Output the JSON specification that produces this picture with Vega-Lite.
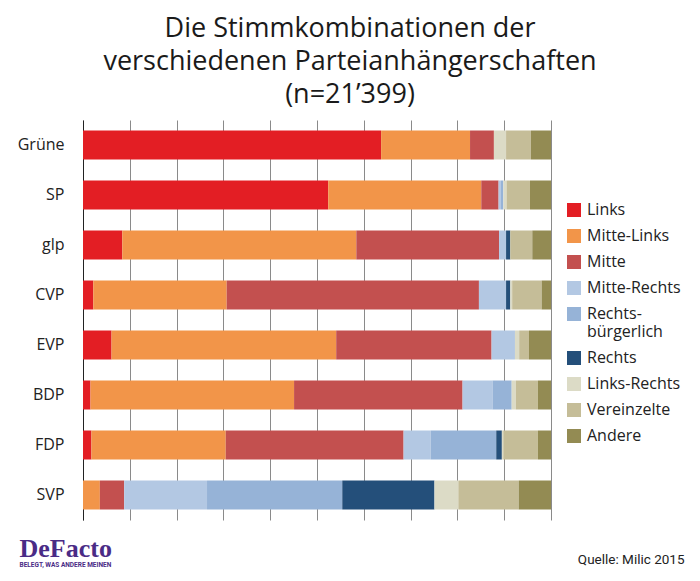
{
  "$schema": "https://vega.github.io/schema/vega-lite/v6.json",
  "width": 468,
  "height": 400,
  "autosize": {"type": "none"},
  "padding": {"left": 83, "top": 120, "right": 149, "bottom": 61},
  "background": "white",
  "config": {"view": {"stroke": null}},
  "title": {
    "text": ["Die Stimmkombinationen der", "verschiedenen Parteianhängerschaften", "(n=21’399)"],
    "anchor": "middle",
    "dx": 33,
    "fontSize": 27,
    "font": "Open Sans",
    "fontWeight": "normal",
    "color": "#1a1a1a",
    "lineHeight": 33,
    "offset": 11
  },
  "data": {
    "values": [
      {"party": "Grüne", "cat": "Links", "value": 63.7},
      {"party": "Grüne", "cat": "Mitte-Links", "value": 19.0},
      {"party": "Grüne", "cat": "Mitte", "value": 5.1},
      {"party": "Grüne", "cat": "Links-Rechts", "value": 2.6},
      {"party": "Grüne", "cat": "Vereinzelte", "value": 5.3},
      {"party": "Grüne", "cat": "Andere", "value": 4.3},
      {"party": "SP", "cat": "Links", "value": 52.4},
      {"party": "SP", "cat": "Mitte-Links", "value": 32.7},
      {"party": "SP", "cat": "Mitte", "value": 3.7},
      {"party": "SP", "cat": "Mitte-Rechts", "value": 0.5},
      {"party": "SP", "cat": "Rechtsbürgerlich", "value": 0.5},
      {"party": "SP", "cat": "Links-Rechts", "value": 0.7},
      {"party": "SP", "cat": "Vereinzelte", "value": 5.0},
      {"party": "SP", "cat": "Andere", "value": 4.5},
      {"party": "glp", "cat": "Links", "value": 8.4},
      {"party": "glp", "cat": "Mitte-Links", "value": 50.0},
      {"party": "glp", "cat": "Mitte", "value": 30.5},
      {"party": "glp", "cat": "Mitte-Rechts", "value": 1.5},
      {"party": "glp", "cat": "Rechts", "value": 0.9},
      {"party": "glp", "cat": "Vereinzelte", "value": 4.7},
      {"party": "glp", "cat": "Andere", "value": 4.0},
      {"party": "CVP", "cat": "Links", "value": 2.2},
      {"party": "CVP", "cat": "Mitte-Links", "value": 28.5},
      {"party": "CVP", "cat": "Mitte", "value": 53.9},
      {"party": "CVP", "cat": "Mitte-Rechts", "value": 5.8},
      {"party": "CVP", "cat": "Rechts", "value": 0.9},
      {"party": "CVP", "cat": "Links-Rechts", "value": 0.4},
      {"party": "CVP", "cat": "Vereinzelte", "value": 6.3},
      {"party": "CVP", "cat": "Andere", "value": 2.0},
      {"party": "EVP", "cat": "Links", "value": 6.1},
      {"party": "EVP", "cat": "Mitte-Links", "value": 48.0},
      {"party": "EVP", "cat": "Mitte", "value": 33.2},
      {"party": "EVP", "cat": "Mitte-Rechts", "value": 5.0},
      {"party": "EVP", "cat": "Links-Rechts", "value": 0.9},
      {"party": "EVP", "cat": "Vereinzelte", "value": 2.1},
      {"party": "EVP", "cat": "Andere", "value": 4.7},
      {"party": "BDP", "cat": "Links", "value": 1.6},
      {"party": "BDP", "cat": "Mitte-Links", "value": 43.5},
      {"party": "BDP", "cat": "Mitte", "value": 36.0},
      {"party": "BDP", "cat": "Mitte-Rechts", "value": 6.4},
      {"party": "BDP", "cat": "Rechtsbürgerlich", "value": 4.1},
      {"party": "BDP", "cat": "Links-Rechts", "value": 0.9},
      {"party": "BDP", "cat": "Vereinzelte", "value": 4.7},
      {"party": "BDP", "cat": "Andere", "value": 2.8},
      {"party": "FDP", "cat": "Links", "value": 1.8},
      {"party": "FDP", "cat": "Mitte-Links", "value": 28.7},
      {"party": "FDP", "cat": "Mitte", "value": 38.0},
      {"party": "FDP", "cat": "Mitte-Rechts", "value": 5.8},
      {"party": "FDP", "cat": "Rechtsbürgerlich", "value": 14.0},
      {"party": "FDP", "cat": "Rechts", "value": 1.2},
      {"party": "FDP", "cat": "Links-Rechts", "value": 0.3},
      {"party": "FDP", "cat": "Vereinzelte", "value": 7.4},
      {"party": "FDP", "cat": "Andere", "value": 2.8},
      {"party": "SVP", "cat": "Mitte-Links", "value": 3.6},
      {"party": "SVP", "cat": "Mitte", "value": 5.2},
      {"party": "SVP", "cat": "Mitte-Rechts", "value": 17.7},
      {"party": "SVP", "cat": "Rechtsbürgerlich", "value": 28.9},
      {"party": "SVP", "cat": "Rechts", "value": 19.7},
      {"party": "SVP", "cat": "Links-Rechts", "value": 5.1},
      {"party": "SVP", "cat": "Vereinzelte", "value": 12.9},
      {"party": "SVP", "cat": "Andere", "value": 6.9}
    ]
  },
  "transform": [
    {"calculate": "indexof(['Links', 'Mitte-Links', 'Mitte', 'Mitte-Rechts', 'Rechtsbürgerlich', 'Rechts', 'Links-Rechts', 'Vereinzelte', 'Andere'], datum.cat)", "as": "catOrder"}
  ],
  "layer": [
    {
      "mark": {"type": "bar"},
      "encoding": {
        "y": {
          "field": "party",
          "type": "nominal",
          "sort": ["Grüne", "SP", "glp", "CVP", "EVP", "BDP", "FDP", "SVP"],
          "scale": {"paddingInner": 0.42, "paddingOuter": 0.21},
          "axis": {
            "orient": "left",
            "ticks": false,
            "domain": true,
            "domainColor": "#222",
            "labelFontSize": 16,
            "labelFont": "Open Sans",
            "labelColor": "#222",
            "labelPadding": 19,
            "title": "DeFacto",
            "titleFont": "Liberation Serif",
            "titleFontWeight": "bold",
            "titleFontSize": 26,
            "titleColor": "#4a2b86",
            "titleAngle": 0,
            "titleAlign": "left",
            "titleBaseline": "alphabetic",
            "titleX": -64,
            "titleY": 436
          }
        },
        "x": {
          "field": "value",
          "type": "quantitative",
          "stack": "normalize",
          "axis": {
            "values": [0, 0.1, 0.2, 0.3, 0.4, 0.5, 0.6, 0.7, 0.8, 0.9, 1.0],
            "grid": true,
            "gridColor": "#8a8a8a",
            "gridWidth": 1,
            "labels": false,
            "ticks": false,
            "domain": false,
            "title": "Quelle: Milic 2015",
            "titleFont": "Roboto",
            "titleFontSize": 13.5,
            "titleFontWeight": "normal",
            "titleColor": "#222",
            "titleAlign": "right",
            "titleBaseline": "alphabetic",
            "titleAnchor": "start",
            "titleX": 601,
            "titleY": 43
          }
        },
        "order": {"field": "catOrder", "type": "quantitative", "sort": "ascending"},
        "color": {
          "field": "cat",
          "type": "nominal",
          "sort": ["Links", "Mitte-Links", "Mitte", "Mitte-Rechts", "Rechtsbürgerlich", "Rechts", "Links-Rechts", "Vereinzelte", "Andere"],
          "scale": {
            "domain": ["Links", "Mitte-Links", "Mitte", "Mitte-Rechts", "Rechtsbürgerlich", "Rechts", "Links-Rechts", "Vereinzelte", "Andere"],
            "range": ["#e31e24", "#f29549", "#c3504f", "#b3c8e3", "#96b3d7", "#244f7a", "#dcdbc6", "#c5bd98", "#938b53"]
          },
          "legend": {
            "orient": "none",
            "legendX": 483,
            "legendY": 82,
            "title": null,
            "symbolType": "square",
            "symbolSize": 196,
            "symbolStrokeWidth": 0,
            "labelFontSize": 16,
            "labelFont": "Open Sans",
            "labelColor": "#222",
            "labelOffset": 5,
            "rowPadding": 10,
            "labelLimit": 200,
            "labelExpr": "datum.label == 'Rechtsbürgerlich' ? ['Rechts-', 'bürgerlich'] : datum.label"
          }
        }
      }
    },
    {
      "mark": {"type": "rule", "opacity": 0},
      "encoding": {
        "y": {
          "field": "party",
          "type": "nominal",
          "sort": ["Grüne", "SP", "glp", "CVP", "EVP", "BDP", "FDP", "SVP"],
          "axis": {
            "orient": "right",
            "ticks": false,
            "domain": false,
            "labels": false,
            "grid": false,
            "title": "BELEGT, WAS ANDERE MEINEN",
            "titleFont": "Roboto",
            "titleFontWeight": "bold",
            "titleFontSize": 6.5,
            "titleColor": "#4a2b86",
            "titleAngle": 0,
            "titleAlign": "left",
            "titleBaseline": "alphabetic",
            "titleX": -532,
            "titleY": 446
          }
        }
      }
    }
  ],
  "resolve": {"axis": {"y": "independent"}}
}
